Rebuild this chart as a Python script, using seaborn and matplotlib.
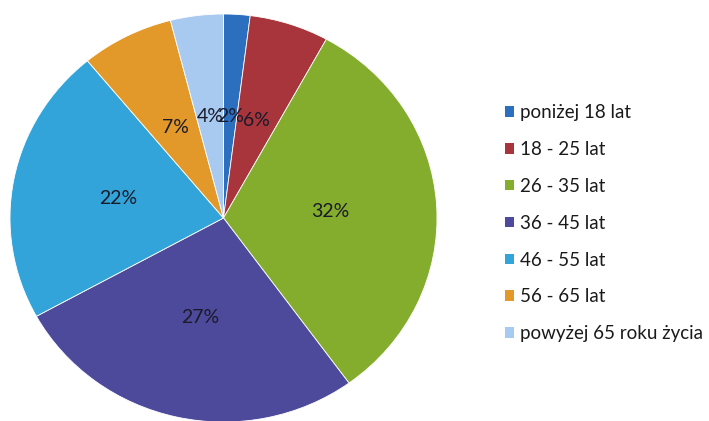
import matplotlib
matplotlib.use("Agg")
import matplotlib.pyplot as plt
import matplotlib.patches as mpatches
import seaborn as sns

categories = ["poniżej 18 lat", "18 - 25 lat", "26 - 35 lat", "36 - 45 lat",
              "46 - 55 lat", "56 - 65 lat", "powyżej 65 roku życia"]
values = [2, 6, 32, 27, 22, 7, 4]
colors = ["#2b6fbe", "#a8353b", "#84ad2e", "#4e4a9b", "#33a4d9", "#e2992a", "#a9caf0"]

sns.set_theme(style="white")
plt.rcParams['font.family'] = ['Lato', 'DejaVu Sans']

palette = sns.color_palette(colors)

W, H = 709, 421
fig = plt.figure(figsize=(W / 100, H / 100), dpi=100)
ax = fig.add_axes([10 / W, -1 / H, 427 / W, 408 / H])

wedges, texts, autotexts = ax.pie(
    values, colors=palette, startangle=90, counterclock=False,
    autopct=lambda p: f"{p:.0f}%", pctdistance=0.5,
    wedgeprops=dict(edgecolor="white", linewidth=0.6),
    textprops=dict(fontsize=14, color="#1a1a2a"))
ax.set_aspect("auto")
ax.set_xlim(-1, 1)
ax.set_ylim(-1, 1)
ax.axis("off")

handles = [mpatches.Patch(facecolor=c, edgecolor="none") for c in palette]
fig.legend(handles, categories, loc="upper left",
           bbox_to_anchor=(505 / W, 1 - 104 / H), frameon=False,
           fontsize=13.5, handlelength=0.5, handleheight=0.5,
           handletextpad=0.3, labelspacing=1.06, borderpad=0,
           borderaxespad=0, labelcolor="#1a1a1a")

fig.savefig("out.png", dpi=100)
